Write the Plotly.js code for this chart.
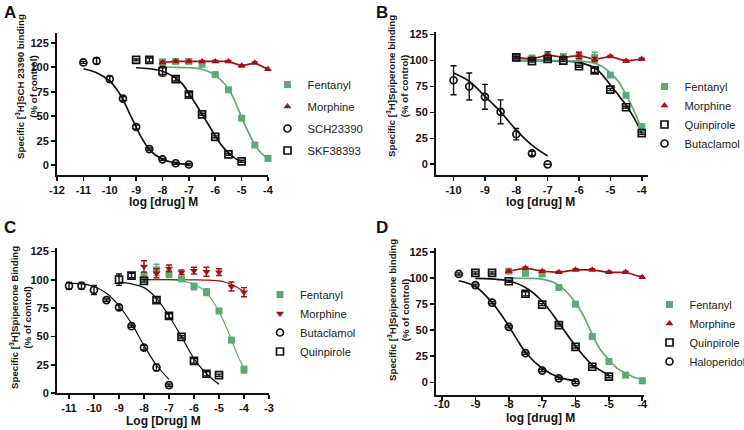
<!DOCTYPE html>
<html><head><meta charset="utf-8">
<script src="https://cdn.plot.ly/plotly-3.0.1.min.js"></script>
<style>html,body{margin:0;padding:0;background:#fff}#chart{width:744px;height:430px}</style>
</head><body><div id="chart"></div>
<script>
// ---------- Panel A : [3H]SCH 23390 binding ----------
const aDoses = [-8,-7.5,-7,-6.5,-6,-5.5,-5,-4.5,-4];
const aFentanyl = [105.5,106,106,103,92.5,77,48,20.5,7];
const aFentanylErr = [1.5,1.5,1.5,2,2,2,2,1.5,1.5];
const aMorphine = [105,106,106,106,106,106,101.5,104.5,98];
const aMorphineErr = [1,1,1,1,1,1,1,1,1];
const aSchDoses = [-11,-10.5,-10,-9.5,-9,-8.5,-8,-7.5,-7];
const aSch = [105,106.5,88,68,39,16.5,6,2,0.7];
const aSchErr = [1,3,3,2,2,1,1,1,1];
const aSkfDoses = [-9,-8.5,-8,-7.5,-7,-6.5,-6,-5.5,-5];
const aSkf = [107.5,107.5,96,88,72,52,29,11,4];
const aSkfErr = [1,2,5,2,2,1,1,1,1];
// fitted curves
const aFitFentX = [-8,-7.5,-7,-6.5,-6,-5.75,-5.5,-5.25,-5,-4.75,-4.5,-4.25,-4];
const aFitFentY = [100,100,99.5,98,92,86,78,65,49,34,21,12,7];
const aFitSchX = [-11,-10.5,-10,-9.75,-9.5,-9.25,-9,-8.75,-8.5,-8,-7.5,-7];
const aFitSchY = [98.5,94.5,86,78,67,53,39,26,16,6,2.2,0.8];
const aFitSkfX = [-9,-8.5,-8,-7.5,-7.25,-7,-6.75,-6.5,-6.25,-6,-5.75,-5.5,-5.25,-5];
const aFitSkfY = [99.5,98.5,96,89,83,73.5,63,52,41,30,20,12.5,7,4];
const aTickVals = [-12,-11,-10,-9,-8,-7,-6,-5,-4];
const aTickText = ['-12','-11','-10','-9','-8','-7','-6','-5','-4'];

// ---------- Panel B : [3H]Spiperone binding ----------
const bDoses = [-8,-7.5,-7,-6.5,-6,-5.5,-5,-4.5,-4];
const bFentanyl = [103,102.5,104,104,104,103,86,66.5,36];
const bFentanylErr = [2,1.5,3,2,4,5,2,2,3];
const bMorphine = [103,101.5,105.5,103,105,101,104,99.5,101.5];
const bMorphineErr = [1,1,3,1,3,2,1,1,1];
const bQuinpirole = [103,99.5,101.5,100,94.5,90.5,72,55,30];
const bQuinpiroleErr = [1,1,1,1,1,2,1,1,1];
const bButaDoses = [-10,-9.5,-9,-8.5,-8,-7.5,-7];
const bButaclamol = [81,75,65,50.6,29,10.5,0];
const bButaclamolErr = [14,13,12,11.5,5.5,2,0];
const bFitButaX = [-10,-9.5,-9,-8.5,-8,-7.5,-7];
const bFitButaY = [88,80,65.5,50.5,33,18.5,8];
const bFitFentX = [-8,-7,-6.5,-6,-5.5,-5.25,-5,-4.75,-4.5,-4.25,-4];
const bFitFentY = [100,100,99.8,99.5,97.5,94,88,80,67,52,33];
const bFitQuinX = [-8,-7,-6.5,-6,-5.5,-5.25,-5,-4.75,-4.5,-4.25,-4];
const bFitQuinY = [100,100,99.5,98,93,86,76.5,67,57,45,30];
const bTickVals = [-10,-9,-8,-7,-6,-5,-4];
const bTickText = ['-10','-9','-8','-7','-6','-5','-4'];

// ---------- Panel C : [3H]Spiperone Binding ----------
const cDoses = [-8,-7.5,-7,-6.5,-6,-5.5,-5,-4.5,-4];
const cFentanyl = [103.7,108.7,105,100.8,94,89,72.4,46.7,20.7];
const cFentanylErr = [3,5,3,2,3,3,2,2,3];
const cMorphine = [111.7,105.8,110,106.7,108,107,106.7,94,89];
const cMorphineErr = [5,4,3,2,3,4,3,4,4];
const cButaDoses = [-11,-10.5,-10,-9.5,-9,-8.5,-8,-7.5,-7];
const cButaclamol = [94.6,94.6,91,82,75.6,59,40,22.5,7];
const cButaclamolErr = [3,3,4,1,2,1,2,3,1];
const cQuinDoses = [-9,-8.5,-8,-7.5,-7,-6.5,-6,-5.5,-5];
const cQuinpirole = [100,103.7,99,82,68,49.6,28.4,17,15.7];
const cQuinpiroleErr = [5,2,1,2,2,1,2,2,1];
const cFitButaX = [-11,-10.5,-10,-9.5,-9,-8.5,-8,-7.5,-7];
const cFitButaY = [97,96.3,94,88,77,61.5,42,24.5,12];
const cFitQuinX = [-9,-8.5,-8,-7.5,-7,-6.5,-6,-5.5,-5];
const cFitQuinY = [97.8,96.3,93,83.6,68,49.6,30.4,17,7.7];
const cFitFentX = [-8,-7,-6.5,-6,-5.5,-5,-4.75,-4.5,-4.25,-4];
const cFitFentY = [100,100,99,96,88.6,71.8,60,47,33,21.6];
const cFitMorphX = [-8,-7,-6,-5.5,-5,-4.75,-4.5,-4.25,-4];
const cFitMorphY = [100,100,99.9,99.7,99,97.8,95.8,93,89.5];
const cTickVals = [-11,-10,-9,-8,-7,-6,-5,-4,-3];
const cTickText = ['-11','-10','-9','-8','-7','-6','-5','-4','-3'];

// ---------- Panel D : [3H]Spiperone binding ----------
const dDoses = [-8,-7.5,-7,-6.5,-6,-5.5,-5,-4.5,-4];
const dFentanyl = [106.6,104.6,104,91,75,44,20,7,1.6];
const dFentanylErr = [1,2,1,1,1,1,1,1,1];
const dMorphine = [106.6,109.8,106.6,105.6,108,108,105.6,105.6,100.8];
const dMorphineErr = [1,1,1,1,1,1,1,1,1];
const dQuinDoses = [-9,-8.5,-8,-7.5,-7,-6.5,-6,-5.5,-5];
const dQuinpirole = [105,105,97,85,74.6,55,34,15,5.5];
const dQuinpiroleErr = [1,1,1,2,1,1,1,1,1];
const dHaloDoses = [-9.5,-9,-8.5,-8,-7.5,-7,-6.5,-6];
const dHaloperidol = [104,93.3,76.5,53.3,28,11.3,3.9,0];
const dHaloperidolErr = [1,1,1,1,1,1,1,1];
const dFitFentX = [-8,-7.5,-7,-6.5,-6,-5.75,-5.5,-5.25,-5,-4.75,-4.5,-4.25,-4];
const dFitFentY = [100,99.8,99,93.3,76.5,63,46,31,21.6,13.5,8.7,5,3];
const dFitQuinX = [-9,-8.5,-8,-7.5,-7,-6.5,-6,-5.5,-5];
const dFitQuinY = [99.8,99.2,97.2,91,77.8,57,35,16.8,7.1];
const dFitHaloX = [-9.5,-9,-8.5,-8.25,-8,-7.75,-7.5,-7,-6.5,-6];
const dFitHaloY = [97.5,92,76.5,66,54,41,29,13.6,4.8,1.6];
const dTickVals = [-10,-9,-8,-7,-6,-5,-4];
const dTickText = ['-10','-9','-8','-7','-6','-5','-4'];

const yTickVals = [0,25,50,75,100,125];
const yTickText = ['0','25','50','75','100','125'];

// ---------- styling ----------
const FONT = 'Liberation Sans, Arial, Helvetica, sans-serif';
const GREEN = '#5BAB74';
const RED = '#A30F12';
const BLACK = '#111111';
const W = 744, H = 430;
const px = p => p / W;
const py = p => 1 - p / H;

function curve(x, y, color, xa, ya, width) {
  return {x: x, y: y, xaxis: xa, yaxis: ya, type: 'scatter', mode: 'lines',
    line: {color: color, width: width || 1.7, shape: 'spline', smoothing: 1},
    showlegend: false, hoverinfo: 'skip', cliponaxis: false};
}
function connect(x, y, color, xa, ya) {
  return {x: x, y: y, xaxis: xa, yaxis: ya, type: 'scatter', mode: 'lines',
    line: {color: color, width: 1.7}, showlegend: false, hoverinfo: 'skip', cliponaxis: false};
}
function pts(x, y, err, name, xa, ya, legend, symbol, color, filled, size) {
  return {x: x, y: y, xaxis: xa, yaxis: ya, type: 'scatter', mode: 'markers', name: name,
    legend: legend, legendgroup: legend + name, cliponaxis: false,
    error_y: {type: 'data', array: err, visible: true, color: color, thickness: 1.4, width: 3},
    marker: {symbol: symbol, size: size || 7,
      color: filled ? color : 'rgba(255,255,255,0)',
      line: {color: color, width: filled ? 0 : 1.7}}};
}

const data = [
  // A
  curve(aFitSchX, aFitSchY, BLACK, 'x', 'y'),
  curve(aFitSkfX, aFitSkfY, BLACK, 'x', 'y'),
  curve(aFitFentX, aFitFentY, GREEN, 'x', 'y'),
  connect(aDoses, aMorphine, RED, 'x', 'y'),
  pts(aDoses, aFentanyl, aFentanylErr, 'Fentanyl', 'x', 'y', 'legend', 'square', GREEN, true, 7),
  pts(aDoses, aMorphine, aMorphineErr, 'Morphine', 'x', 'y', 'legend', 'triangle-up', RED, true, 7),
  pts(aSchDoses, aSch, aSchErr, 'SCH23390', 'x', 'y', 'legend', 'circle', BLACK, false, 7),
  pts(aSkfDoses, aSkf, aSkfErr, 'SKF38393', 'x', 'y', 'legend', 'square', BLACK, false, 7),
  // B
  curve(bFitButaX, bFitButaY, BLACK, 'x2', 'y2'),
  curve(bFitQuinX, bFitQuinY, BLACK, 'x2', 'y2'),
  curve(bFitFentX, bFitFentY, GREEN, 'x2', 'y2'),
  connect(bDoses, bMorphine, RED, 'x2', 'y2'),
  pts(bDoses, bFentanyl, bFentanylErr, 'Fentanyl', 'x2', 'y2', 'legend2', 'square', GREEN, true, 7),
  pts(bDoses, bMorphine, bMorphineErr, 'Morphine', 'x2', 'y2', 'legend2', 'triangle-up', RED, true, 7),
  pts(bDoses, bQuinpirole, bQuinpiroleErr, 'Quinpirole', 'x2', 'y2', 'legend2', 'square', BLACK, false, 7),
  pts(bButaDoses, bButaclamol, bButaclamolErr, 'Butaclamol', 'x2', 'y2', 'legend2', 'circle', BLACK, false, 7),
  // C
  curve(cFitButaX, cFitButaY, BLACK, 'x3', 'y3', 1.2),
  curve(cFitQuinX, cFitQuinY, BLACK, 'x3', 'y3', 1.2),
  curve(cFitFentX, cFitFentY, GREEN, 'x3', 'y3', 1.2),
  curve(cFitMorphX, cFitMorphY, RED, 'x3', 'y3', 1.2),
  pts(cDoses, cFentanyl, cFentanylErr, 'Fentanyl', 'x3', 'y3', 'legend3', 'square', GREEN, true, 7),
  pts(cDoses, cMorphine, cMorphineErr, 'Morphine', 'x3', 'y3', 'legend3', 'triangle-down', RED, true, 7),
  pts(cButaDoses, cButaclamol, cButaclamolErr, 'Butaclamol', 'x3', 'y3', 'legend3', 'circle', BLACK, false, 7),
  pts(cQuinDoses, cQuinpirole, cQuinpiroleErr, 'Quinpirole', 'x3', 'y3', 'legend3', 'square', BLACK, false, 7),
  // D
  curve(dFitHaloX, dFitHaloY, BLACK, 'x4', 'y4'),
  curve(dFitQuinX, dFitQuinY, BLACK, 'x4', 'y4'),
  curve(dFitFentX, dFitFentY, GREEN, 'x4', 'y4'),
  connect(dDoses, dMorphine, RED, 'x4', 'y4'),
  pts(dDoses, dFentanyl, dFentanylErr, 'Fentanyl', 'x4', 'y4', 'legend4', 'square', GREEN, true, 7),
  pts(dDoses, dMorphine, dMorphineErr, 'Morphine', 'x4', 'y4', 'legend4', 'triangle-up', RED, true, 7),
  pts(dQuinDoses, dQuinpirole, dQuinpiroleErr, 'Quinpirole', 'x4', 'y4', 'legend4', 'square', BLACK, false, 7),
  pts(dHaloDoses, dHaloperidol, dHaloperidolErr, 'Haloperidol', 'x4', 'y4', 'legend4', 'circle', BLACK, false, 7)
];

const tickFont = {family: FONT, size: 11, weight: 'bold', color: '#111'};
function xaxis(d0, d1, range, tv, tt, anchor, standoff) {
  return {domain: [px(d0), px(d1)], range: range, anchor: anchor, showgrid: false, zeroline: false,
    showline: true, linecolor: '#111', linewidth: 2, ticks: 'outside', ticklen: 4, tickwidth: 1.7,
    tickcolor: '#111', tickvals: tv, ticktext: tt, tickfont: tickFont, ticklabelstandoff: standoff,
    automargin: false};
}
function yaxis(top, bottom, range, anchor) {
  return {domain: [py(bottom), py(top)], range: range, anchor: anchor, showgrid: false, zeroline: false,
    showline: true, linecolor: '#111', linewidth: 2, ticks: 'outside', ticklen: 4, tickwidth: 1.7,
    tickcolor: '#111', tickvals: yTickVals, ticktext: yTickText, tickfont: tickFont, automargin: false};
}
function legend(x, top, gap, size) {
  return {x: px(x), y: py(top), xref: 'container', yref: 'container', xanchor: 'left', yanchor: 'top',
    bgcolor: 'rgba(0,0,0,0)',
    font: {family: FONT, size: size, color: '#222'}, tracegroupgap: gap, traceorder: 'grouped'};
}
function ytitle(text, x, y) {
  return {text: text, x: px(x), y: py(y), xref: 'paper', yref: 'paper', showarrow: false,
    textangle: -90, xanchor: 'center', yanchor: 'middle', align: 'center',
    font: {family: FONT, size: 9.7, weight: 'bold', color: '#111'}};
}
function xtitle(text, x, y) {
  return {text: text, x: px(x), y: py(y), xref: 'paper', yref: 'paper', showarrow: false,
    xanchor: 'center', yanchor: 'middle',
    font: {family: FONT, size: 12, weight: 'bold', color: '#111'}};
}
function label(text, x, y) {
  return {text: text, x: px(x), y: py(y), xref: 'paper', yref: 'paper', showarrow: false,
    xanchor: 'left', yanchor: 'top', font: {family: FONT, size: 17, weight: 'bold', color: '#111'}};
}

const layout = {
  width: W, height: H, margin: {l: 0, r: 0, t: 0, b: 0, autoexpand: false},
  paper_bgcolor: '#fff', plot_bgcolor: 'rgba(0,0,0,0)', showlegend: true,
  xaxis: xaxis(57, 268, [-12, -4], aTickVals, aTickText, 'y', 0),
  yaxis: yaxis(33, 175, [-10, 135], 'x'),
  xaxis2: xaxis(436, 648, [-10.56, -3.8], bTickVals, bTickText, 'y2', 0),
  yaxis2: yaxis(32, 175, [-10.3, 127.5], 'x2'),
  xaxis3: xaxis(57, 269, [-11.48, -3], cTickVals, cTickText, 'y3', 0),
  yaxis3: yaxis(248, 393, [0, 128], 'x3'),
  xaxis4: xaxis(436, 644, [-10.18, -3.95], dTickVals, dTickText, 'y4', -6),
  yaxis4: yaxis(248, 394.5, [-11.6, 128.9], 'x4'),
  legend: legend(267.5, 70, 3, 11.3),
  legend2: legend(644.5, 72, 0, 11.2),
  legend3: legend(260, 280, 0, 11.2),
  legend4: legend(649.5, 290, 0, 11),
  annotations: [
    label('A', 2, 1), label('B', 374, 1), label('C', 2, 216), label('D', 374, 216),
    ytitle('Specific [<sup>3</sup>H]SCH 23390 binding<br>(% of control)', 26, 87),
    ytitle('Specific [<sup>3</sup>H]Spiperone binding<br>(% of control)', 398, 86),
    ytitle('Specific [<sup>3</sup>H]Spiperone Binding<br>(% of control)', 20, 318),
    ytitle('Specific [<sup>3</sup>H]Spiperone binding<br>(% of control)', 398, 310),
    xtitle('log [drug] M', 163, 202),
    xtitle('log [drug] M', 540, 202),
    xtitle('Log [Drug] M', 163, 421),
    xtitle('log [drug] M', 540, 418)
  ]
};

Plotly.newPlot('chart', data, layout, {displayModeBar: false, staticPlot: true});
</script>
</body></html>
